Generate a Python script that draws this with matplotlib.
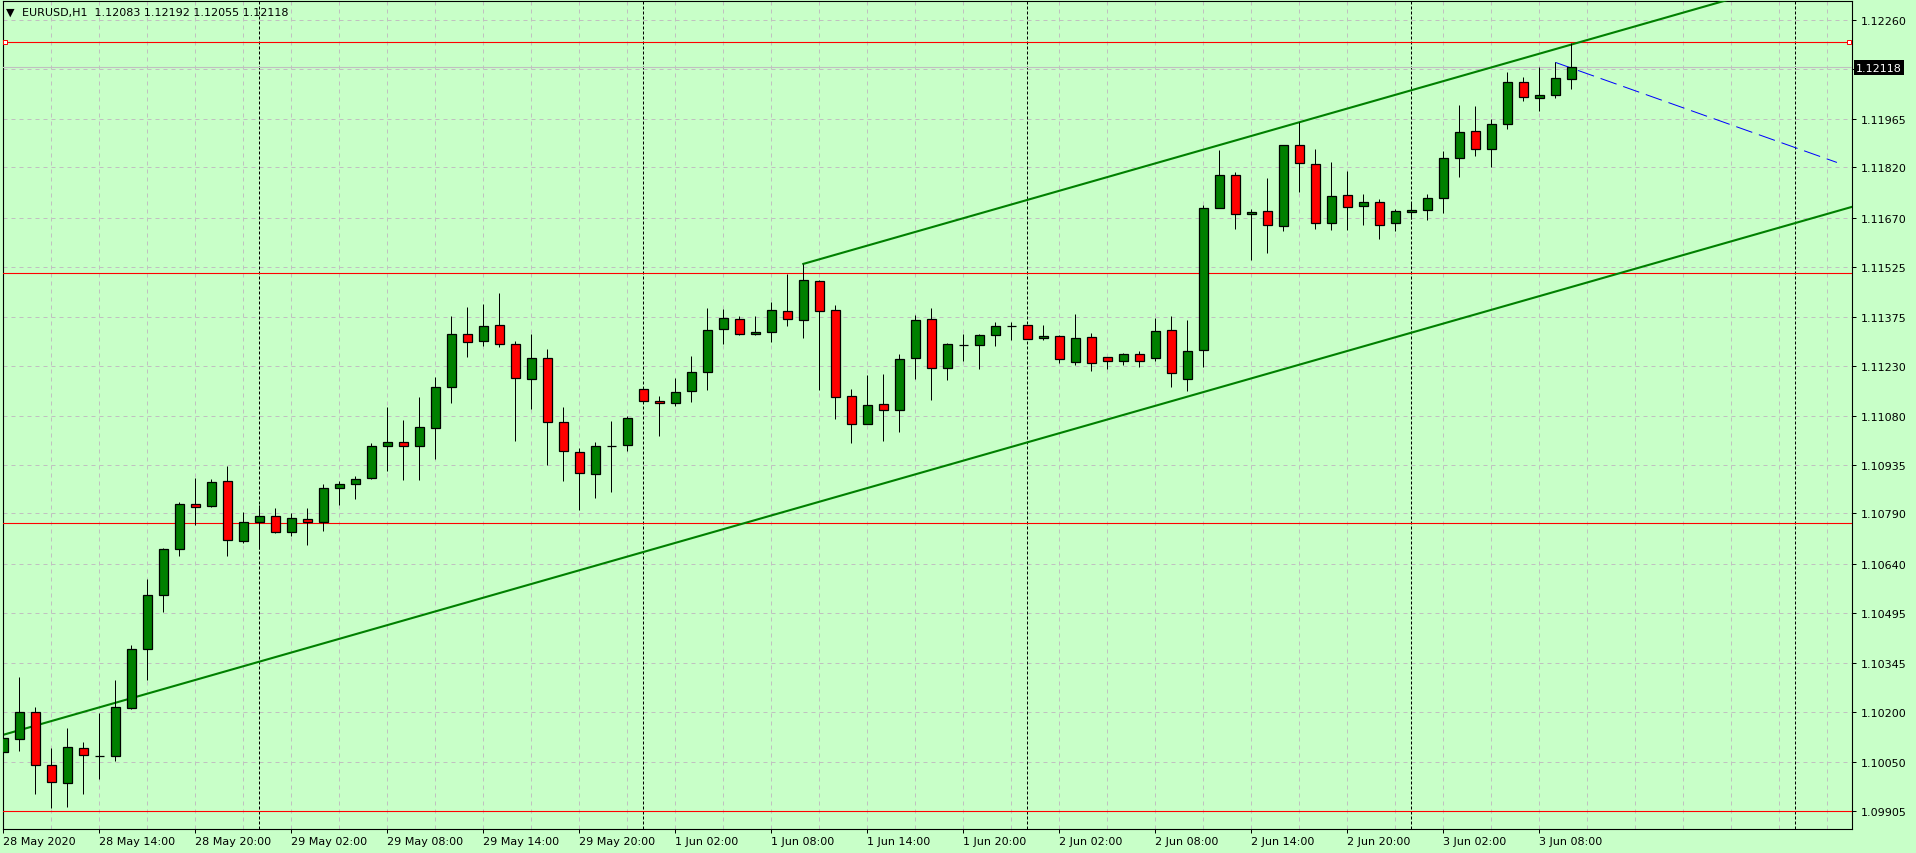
import matplotlib.pyplot as plt
import numpy as np

# EURUSD H1 candles, 28 May 2020 08:00 .. 3 Jun 2020 10:00 (bar index = position on chart)
opens = [1.10079, 1.10118, 1.10198, 1.10040, 1.09987, 1.10091, 1.10069, 1.10067, 1.10210, 1.10386,
         1.10546, 1.10683, 1.10817, 1.10811, 1.10886, 1.10707, 1.10764, 1.10782, 1.10734, 1.10773,
         1.10764, 1.10865, 1.10877, 1.10895, 1.10990, 1.11002, 1.10990, 1.11044, 1.11166, 1.11323,
         1.11303, 1.11350, 1.11294, 1.11189, 1.11252, 1.11061, 1.10972, 1.10907, 1.10992, 1.10993,
         1.11160, 1.11124, 1.11118, 1.11154, 1.11210, 1.11338, 1.11368, 1.11323, 1.11329, 1.11392,
         1.11365, 1.11481, 1.11395, 1.11139, 1.11056, 1.11115, 1.11097, 1.11252, 1.11368, 1.11222,
         1.11292, 1.11291, 1.11320, 1.11349, 1.11350, 1.11312, 1.11318, 1.11241, 1.11315, 1.11255,
         1.11244, 1.11264, 1.11252, 1.11335, 1.11190, 1.11276, 1.11699, 1.11797, 1.11681, 1.11690,
         1.11645, 1.11886, 1.11830, 1.11654, 1.11737, 1.11705, 1.11716, 1.11654, 1.11687, 1.11693,
         1.11728, 1.11847, 1.11928, 1.11874, 1.11949, 1.12074, 1.12026, 1.12035, 1.12083]
highs = [1.10178, 1.10303, 1.10214, 1.10092, 1.10151, 1.10110, 1.10196, 1.10294, 1.10399, 1.10595,
         1.10686, 1.10823, 1.10895, 1.10892, 1.10931, 1.10794, 1.10814, 1.10805, 1.10791, 1.10805,
         1.10877, 1.10886, 1.10901, 1.10999, 1.11106, 1.11067, 1.11136, 1.11195, 1.11377, 1.11404,
         1.11413, 1.11445, 1.11303, 1.11323, 1.11279, 1.11106, 1.10984, 1.11002, 1.11064, 1.11079,
         1.11167, 1.11139, 1.11192, 1.11258, 1.11401, 1.11398, 1.11377, 1.11377, 1.11419, 1.11504,
         1.11533, 1.11484, 1.11410, 1.11160, 1.11201, 1.11204, 1.11264, 1.11380, 1.11401, 1.11296,
         1.11323, 1.11323, 1.11359, 1.11359, 1.11351, 1.11350, 1.11320, 1.11383, 1.11326, 1.11256,
         1.11268, 1.11273, 1.11371, 1.11377, 1.11365, 1.11707, 1.11871, 1.11806, 1.11696, 1.11788,
         1.11887, 1.11955, 1.11874, 1.11835, 1.11810, 1.11740, 1.11725, 1.11696, 1.11713, 1.11740,
         1.11868, 1.12005, 1.12002, 1.11964, 1.12103, 1.12089, 1.12118, 1.12133, 1.12192]
lows = [1.10051, 1.10084, 1.09956, 1.09914, 1.09917, 1.09956, 1.09998, 1.10054, 1.10208, 1.10295,
        1.10498, 1.10663, 1.10755, 1.10808, 1.10663, 1.10701, 1.10683, 1.10731, 1.10722, 1.10695,
        1.10737, 1.10816, 1.10834, 1.10893, 1.10917, 1.10891, 1.10891, 1.10953, 1.11120, 1.11257,
        1.11290, 1.11287, 1.11007, 1.11102, 1.10935, 1.10888, 1.10801, 1.10837, 1.10855, 1.10975,
        1.11120, 1.11022, 1.11111, 1.11123, 1.11158, 1.11295, 1.11320, 1.11321, 1.11300, 1.11347,
        1.11313, 1.11157, 1.11070, 1.10999, 1.11055, 1.11005, 1.11032, 1.11189, 1.11127, 1.11186,
        1.11245, 1.11219, 1.11288, 1.11306, 1.11308, 1.11306, 1.11237, 1.11232, 1.11214, 1.11220,
        1.11232, 1.11226, 1.11244, 1.11167, 1.11155, 1.11226, 1.11698, 1.11638, 1.11546, 1.11565,
        1.11630, 1.11748, 1.11636, 1.11633, 1.11635, 1.11648, 1.11606, 1.11630, 1.11666, 1.11663,
        1.11685, 1.11791, 1.11853, 1.11821, 1.11934, 1.12017, 1.11989, 1.12026, 1.12055]
closes = [1.10121, 1.10198, 1.10040, 1.09990, 1.10094, 1.10070, 1.10069, 1.10213, 1.10386, 1.10546,
          1.10683, 1.10817, 1.10808, 1.10883, 1.10710, 1.10764, 1.10782, 1.10734, 1.10776, 1.10764,
          1.10865, 1.10877, 1.10892, 1.10990, 1.11002, 1.10990, 1.11047, 1.11166, 1.11323, 1.11300,
          1.11347, 1.11294, 1.11192, 1.11252, 1.11061, 1.10975, 1.10910, 1.10990, 1.10992, 1.11073,
          1.11124, 1.11118, 1.11151, 1.11210, 1.11335, 1.11371, 1.11323, 1.11329, 1.11395, 1.11368,
          1.11484, 1.11392, 1.11136, 1.11056, 1.11112, 1.11097, 1.11249, 1.11365, 1.11222, 1.11294,
          1.11292, 1.11320, 1.11347, 1.11349, 1.11309, 1.11318, 1.11249, 1.11312, 1.11238, 1.11244,
          1.11264, 1.11244, 1.11332, 1.11208, 1.11273, 1.11699, 1.11797, 1.11681, 1.11687, 1.11648,
          1.11886, 1.11832, 1.11654, 1.11734, 1.11701, 1.11716, 1.11648, 1.11690, 1.11693, 1.11728,
          1.11847, 1.11925, 1.11874, 1.11949, 1.12074, 1.12029, 1.12035, 1.12086, 1.12118]

# price axis labels (the one under the current price box is hidden)
ytick_vals = [1.09905, 1.10050, 1.10200, 1.10345, 1.10495, 1.10640, 1.10790, 1.10935, 1.11080,
              1.11230, 1.11375, 1.11525, 1.11670, 1.11820, 1.11965, 1.12113, 1.12260]
ytick_labels = ['1.09905', '1.10050', '1.10200', '1.10345', '1.10495', '1.10640', '1.10790',
                '1.10935', '1.11080', '1.11230', '1.11375', '1.11525', '1.11670', '1.11820',
                '1.11965', '', '1.12260']

# time labels every 6 bars
xtick_bars = [0, 6, 12, 18, 24, 30, 36, 42, 48, 54, 60, 66, 72, 78, 84, 90, 96]
xtick_labels = ['28 May 2020', '28 May 14:00', '28 May 20:00', '29 May 02:00', '29 May 08:00',
                '29 May 14:00', '29 May 20:00', '1 Jun 02:00', '1 Jun 08:00', '1 Jun 14:00',
                '1 Jun 20:00', '2 Jun 02:00', '2 Jun 08:00', '2 Jun 14:00', '2 Jun 20:00',
                '3 Jun 02:00', '3 Jun 08:00']

# day separators (00:00 bars)
day_bars = [16, 40, 64, 88, 112]

# horizontal levels
red_levels = [1.12193, 1.11505, 1.10761, 1.09903]
current_price = 1.12118

# equidistant channel: (bar, price) anchors
channel_upper = [(50, 1.11533), (98, 1.12186)]
channel_lower_start = (0, 1.10131)

# blue dashed trend line
blue_line = [(97, 1.12133), (114.6, 1.11835)]

bg = '#C8FFC8'
W, H = 1916, 854

fig = plt.figure(figsize=(W / 100, H / 100), dpi=100, facecolor=bg)
ax = fig.add_axes([2.7 / W, 24 / H, (1852.3 - 2.7) / W, (830 - 1.7) / H])
ax.set_facecolor(bg)
plt.rcParams['font.family'] = ['DejaVu Sans']

ax.set_xlim(-0.0375, 115.56)
ax.set_ylim(1.098505, 1.123166)

# grid
for yv in ytick_vals:
    ax.axhline(yv, color='#C0C0C0', lw=0.72, ls=(0, (4, 4)), zorder=1)
for xv in range(0, 116, 3):
    ax.axvline(xv, color='#C0C0C0', lw=0.72, ls=(0, (4, 4)), zorder=1)

# separators
for xv in day_bars:
    ax.axvline(xv, color='black', lw=0.72, ls=(0, (3, 2)), zorder=2)

# horizontal lines
for lv in red_levels:
    ax.axhline(lv, color='#FF0000', lw=0.8, zorder=3)
ax.plot([0.1, 115.35], [red_levels[0], red_levels[0]], ls='none', marker='s', ms=3,
        mfc='white', mec='#FF0000', mew=0.7, zorder=4, clip_on=False)
ax.axhline(current_price, color='#C0C0C0', lw=0.8, zorder=3)

# channel
(x1, y1), (x2, y2) = channel_upper
slope = (y2 - y1) / (x2 - x1)
xu = np.array([x1, 130])
ax.plot(xu, y1 + slope * (xu - x1), color='#008000', lw=1.5, zorder=3)
x0, y0 = channel_lower_start
xl = np.array([-5, 130])
ax.plot(xl, y0 + slope * (xl - x0), color='#008000', lw=1.5, zorder=3)

# blue dashed line
ax.plot([blue_line[0][0], blue_line[1][0]], [blue_line[0][1], blue_line[1][1]],
        color='#0000FF', lw=0.72, ls=(0, (17, 7)), zorder=3)

# candles
idx = np.arange(len(opens))
o = np.array(opens)
c = np.array(closes)
ax.vlines(idx, lows, highs, color='black', lw=0.72, zorder=5)
colors = np.where(c > o, '#008000', np.where(c < o, '#FF0000', 'black'))
ax.bar(idx, np.abs(c - o), bottom=np.minimum(o, c), width=0.6, color=colors,
       edgecolor='black', linewidth=0.9, zorder=6)

# axes styling
for s in ax.spines.values():
    s.set_color('black')
    s.set_linewidth(0.8)

ax.yaxis.tick_right()
ax.set_yticks(ytick_vals)
ax.set_yticklabels(ytick_labels)
ax.tick_params(axis='y', direction='out', length=3, width=0.72, pad=3, labelsize=8,
               colors='black')
ax.set_xticks(xtick_bars)
ax.set_xticklabels(xtick_labels, ha='left')
ax.tick_params(axis='x', direction='out', length=3, width=0.72, pad=2, labelsize=8,
               colors='black')

# current price box
fig.text(1856 / W, 1 - 68.7 / H, '1.12118', color='white', fontsize=8, va='center', ha='left',
         bbox=dict(facecolor='black', edgecolor='none', pad=1.6))

# header
fig.text(6 / W, 1 - 13 / H, '\u25bc', fontsize=8, va='center', ha='left', color='black')
fig.text(22 / W, 1 - 13 / H, 'EURUSD,H1  1.12083 1.12192 1.12055 1.12118', fontsize=8,
         va='center', ha='left', color='black')

fig.savefig('out.png', dpi=100, facecolor=bg)
